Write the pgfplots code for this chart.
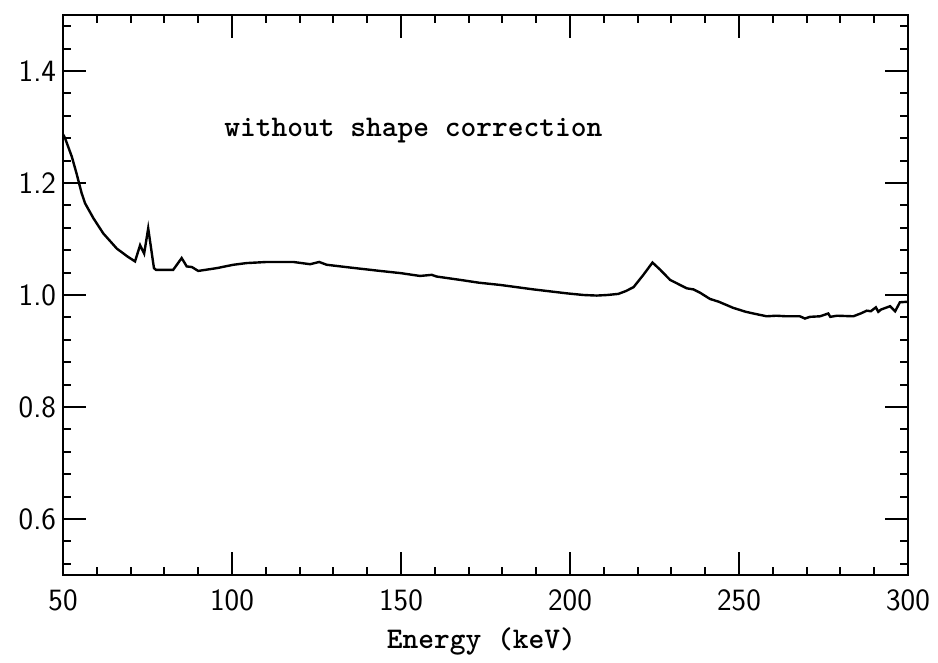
\documentclass[border=0pt]{standalone}
\usepackage{fontspec}
\usepackage{pgfplots}
\pgfplotsset{compat=1.18}

\begin{document}
\begin{tikzpicture}
\begin{axis}[
    scale only axis,
    width=422.5pt,
    height=280pt,
    xmin=50, xmax=300,
    ymin=0.5, ymax=1.5,
    xtick={50,100,150,200,250,300},
    ytick={0.6,0.8,1.0,1.2,1.4},
    yticklabels={0.6,0.8,1.0,1.2,1.4},
    minor xtick={60,70,80,90,110,120,130,140,160,170,180,190,210,220,230,240,260,270,280,290},
    minor ytick={0.52,0.56,0.64,0.68,0.72,0.76,0.84,0.88,0.92,0.96,1.04,1.08,1.12,1.16,1.24,1.28,1.32,1.36,1.44,1.48},
    tick align=inside,
    major tick length=11.5pt,
    minor tick length=4pt,
    every tick/.style={black, line width=1pt},
    axis line style={line width=1.3pt},
    /pgf/number format/assume math mode=true,
    ticklabel style={font=\fontsize{15.5}{18}\selectfont\sffamily},
    xticklabel style={yshift=-4pt},
    xlabel={Energy (keV)},
    xlabel style={font=\fontsize{15}{18}\selectfont\ttfamily\bfseries,
        at={(axis description cs:0.495,-0.118)}, anchor=center},
    clip mode=individual,
]

\addplot[black, line width=1.2pt, mark=none] coordinates {
    (50.0,1.287) (50.6,1.280) (52.6,1.247) (54.0,1.217) (55.5,1.182)
    (56.5,1.164) (59.0,1.137) (61.9,1.110) (65.9,1.083) (69,1.069) (71.3,1.060)
    (72.8,1.089) (74.0,1.074) (75.2,1.119) (76.9,1.048) (77.5,1.045)
    (82.6,1.045) (85.1,1.066) (86.6,1.051) (88.1,1.050) (90.0,1.043)
    (95.5,1.048) (100.4,1.054) (104.3,1.057) (110.3,1.059) (118.1,1.059)
    (123.1,1.055) (125.8,1.059) (128.0,1.054) (135,1.049) (143.8,1.043)
    (150,1.039) (155.6,1.034) (159.1,1.036) (160.5,1.033) (167.5,1.027)
    (173,1.022) (179.3,1.018) (189.2,1.010) (199.0,1.003) (204,1.000)
    (207.9,0.999) (211,1.000) (214.3,1.002) (216.5,1.007) (218.8,1.014)
    (221.7,1.036) (224.4,1.058) (226.7,1.045) (229.6,1.027) (234.5,1.012)
    (236.5,1.010) (238.5,1.004) (241.4,0.993) (244,0.988) (248.3,0.977)
    (252,0.970) (255,0.966) (258.2,0.962) (261,0.963) (264,0.962)
    (268.0,0.962) (269.5,0.958) (271,0.961) (274,0.962) (276.4,0.967)
    (277,0.961) (279,0.963) (283.8,0.962) (286,0.967) (287.8,0.972)
    (289,0.971) (290.5,0.978) (291.2,0.970) (292,0.974) (294.7,0.980)
    (296.2,0.971) (297.6,0.987) (300,0.988)
};

% annotation
\node[anchor=west, inner sep=0pt, font=\fontsize{15}{18}\selectfont\ttfamily\bfseries]
    at (axis cs:97.6,1.293) {without shape correction};

% page extent
\path (rel axis cs:-0.0746,-0.1554) rectangle (rel axis cs:1.0355,1.0268);
\end{axis}
\end{tikzpicture}
\end{document}
